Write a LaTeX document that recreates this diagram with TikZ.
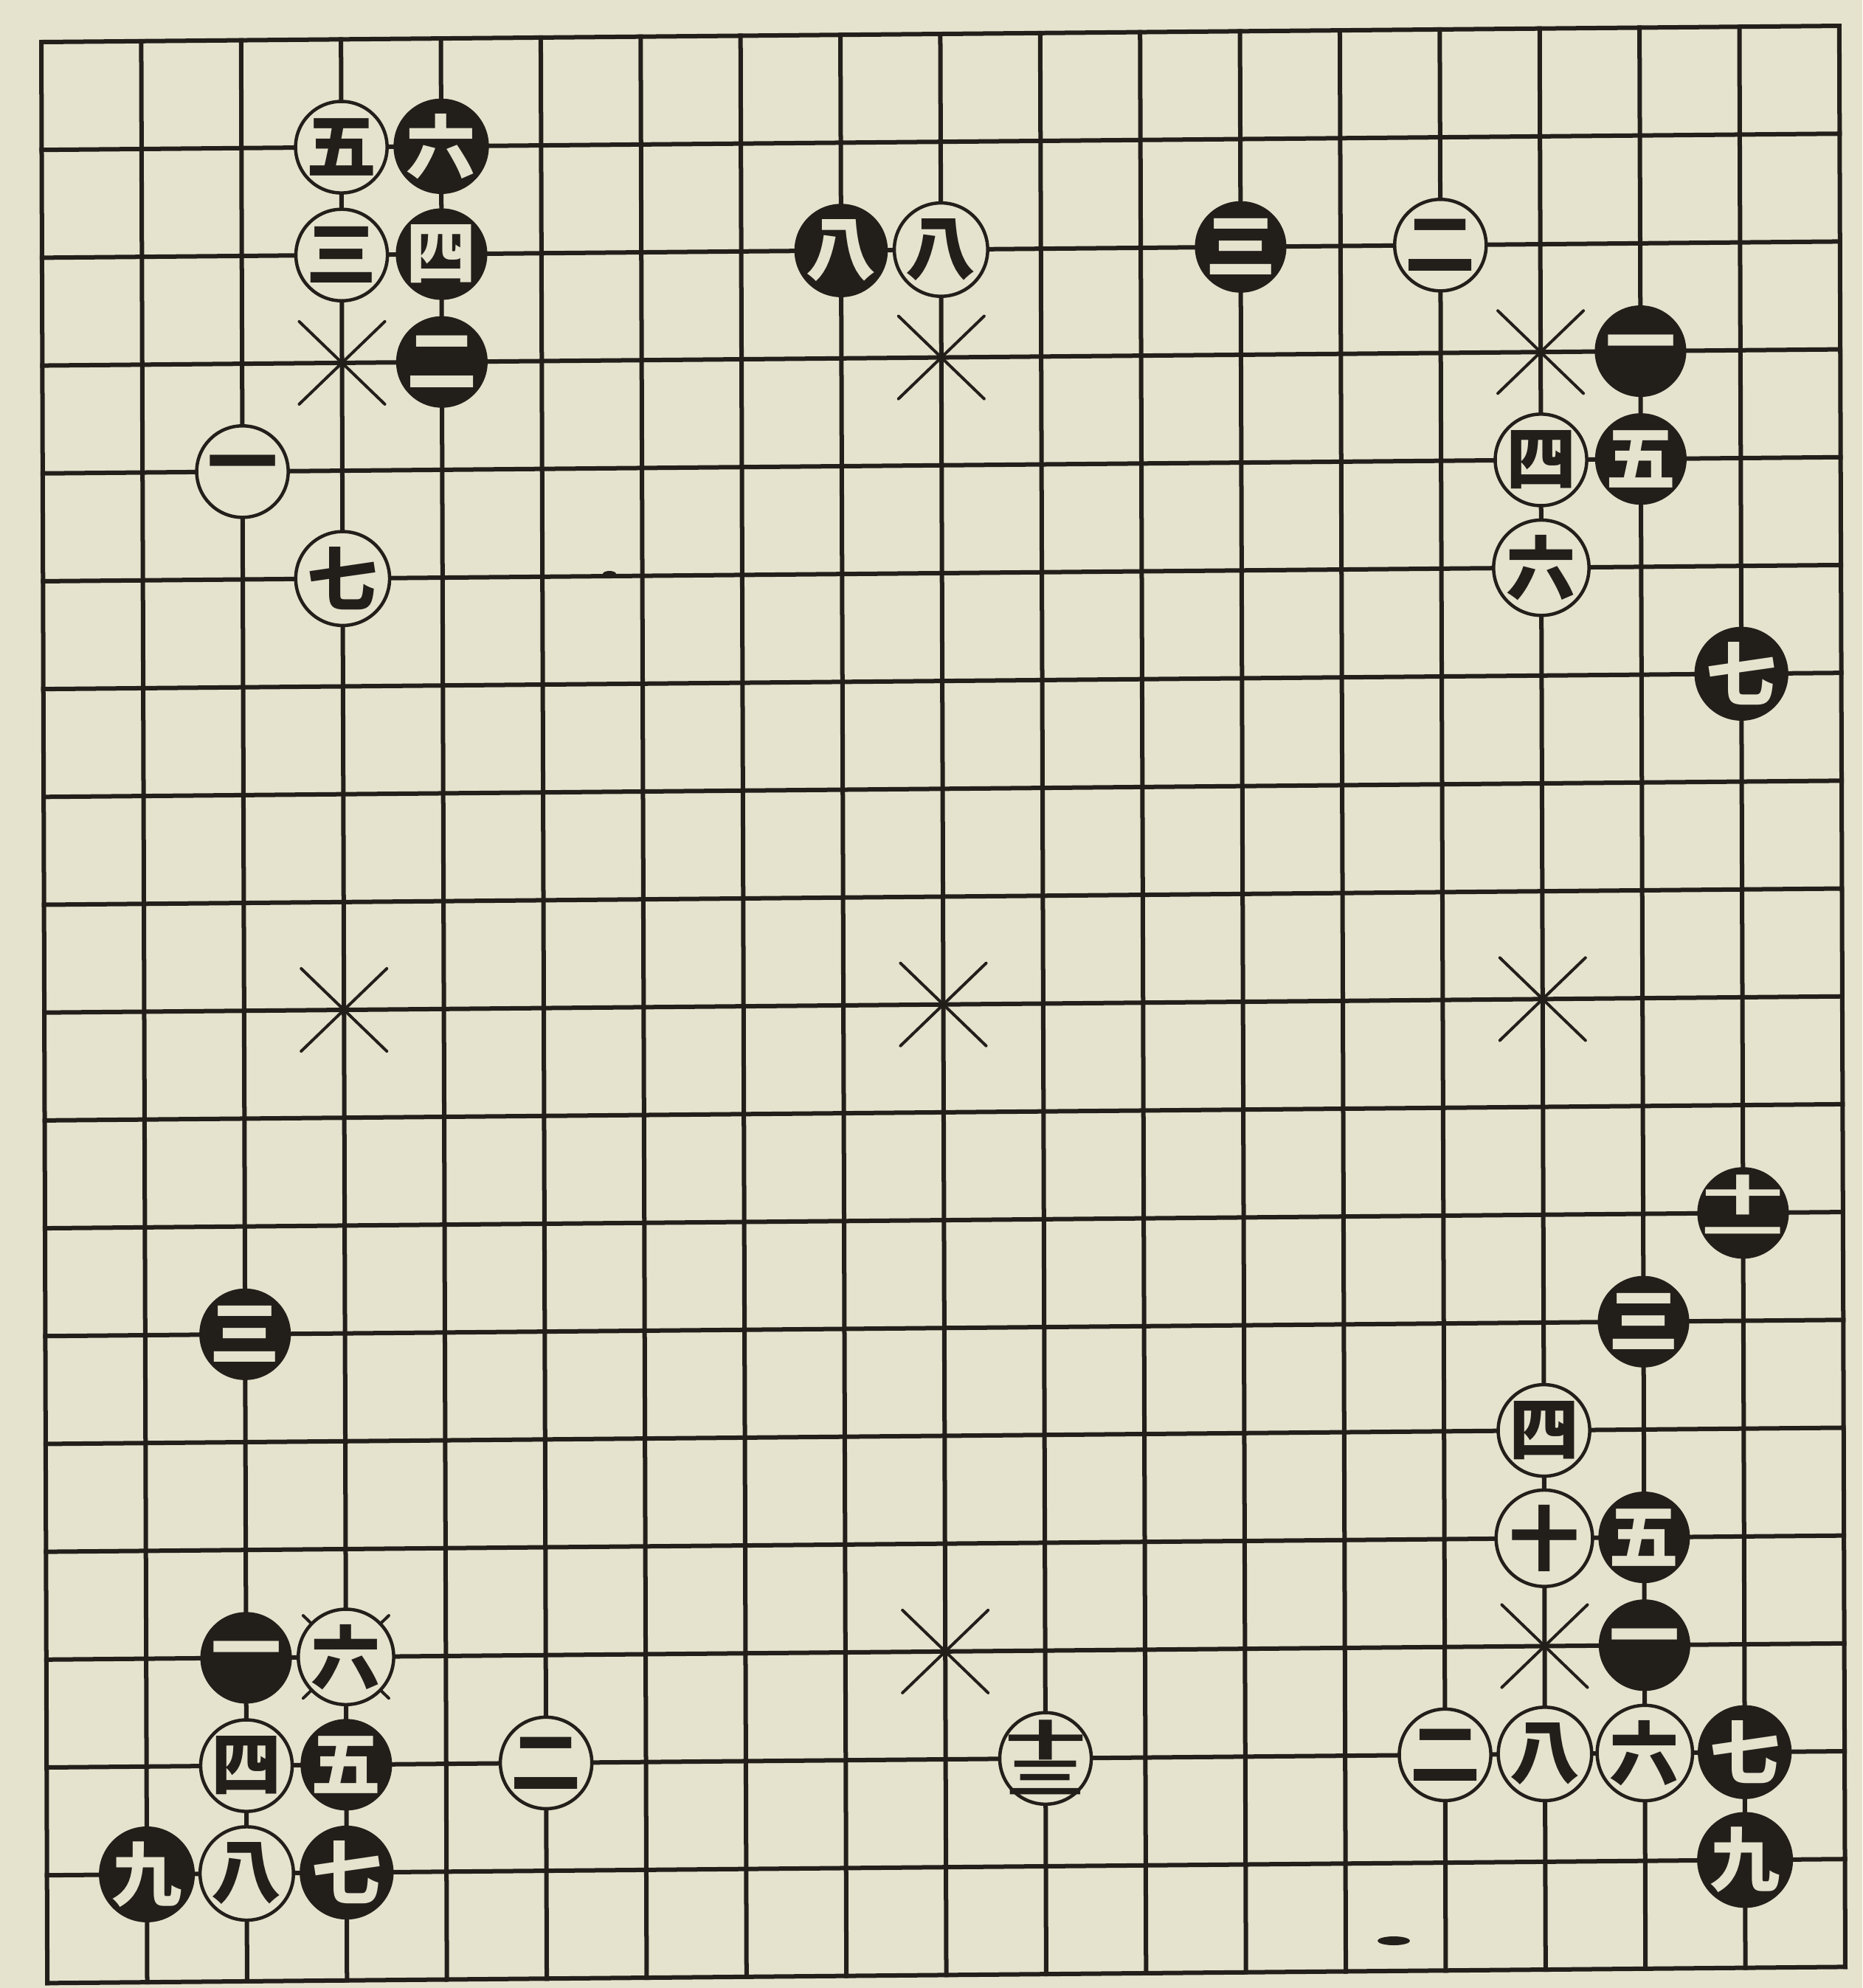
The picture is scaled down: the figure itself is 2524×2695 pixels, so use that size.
\documentclass[tikz,border=0pt]{standalone}
\usepackage{fontspec}
\newfontfamily\cjk{Noto Sans CJK JP}
\definecolor{paper}{RGB}{229,227,205}
\definecolor{ink}{RGB}{34,31,27}
\newcommand\twostack[2]{\makebox[1.1em]{\raisebox{0.03em}[0pt][0pt]{\makebox[0pt]{\scalebox{1.15}[0.6]{#1}}}\raisebox{-0.49em}[0pt][0pt]{\makebox[0pt]{\scalebox{1.15}[0.6]{#2}}}}}
\begin{document}
\begin{tikzpicture}[x=0.01cm,y=-0.01cm,
  gridline/.style={draw=ink, line width=0.06cm, line cap=rect},
  starline/.style={draw=ink, line width=0.04cm, line cap=round},
  stone/.style={circle, minimum size=1.24cm, inner sep=0pt, font=\cjk\bfseries\fontsize{27}{27}\selectfont},
  bstone/.style={stone, fill=ink, text=paper},
  wstone/.style={stone, fill=paper, draw=ink, line width=0.045cm, text=ink}]
\fill[paper] (0,0) rectangle (2524,2695);
\useasboundingbox (0,0) rectangle (2524,2695);
% stray ink marks
\fill[ink] (1889,2631) ellipse [x radius=22, y radius=6];
\fill[ink] (826,778) ellipse [x radius=9, y radius=4];
\begin{scope}[shift={(0.56cm,-0.57cm)}, x={(1.353cm,0.0122cm)}, y={(0.0045cm,-1.461cm)}]
  \foreach \i in {0,...,18} {
    \draw[gridline] (0,\i) -- (18,\i);
    \draw[gridline] (\i,0) -- (\i,18);
  }
  \foreach \c in {3,9,15} {
    \foreach \r in {3,9,15} {
      \coordinate (star-\c-\r) at (\c,\r);
      \draw[starline] (star-\c-\r) +(-0.58cm,0.56cm) -- +(0.58cm,-0.56cm);
      \draw[starline] (star-\c-\r) +(0.58cm,0.56cm) -- +(-0.58cm,-0.56cm);
    }
  }
  % top-left
  \node[wstone] (w-4-2) at (3,1) {五};
  \node[bstone] (b-5-2) at (4,1) {六};
  \node[wstone] (w-4-3) at (3,2) {三};
  \node[bstone] (b-5-3) at (4,2) {四};
  \node[bstone] (b-5-4) at (4,3) {二};
  \node[wstone] (w-3-5) at (2,4) {一};
  \node[wstone] (w-4-6) at (3,5) {七};
  % top centre
  \node[bstone] (b-9-3) at (8,2) {八};
  \node[wstone] (w-10-3) at (9,2) {八};
  \node[bstone] (b-13-3) at (12,2) {三};
  \node[wstone] (w-15-3) at (14,2) {二};
  % top right
  \node[bstone] (b-17-4) at (16,3) {一};
  \node[wstone] (w-16-5) at (15,4) {四};
  \node[bstone] (b-17-5) at (16,4) {五};
  \node[wstone] (w-16-6) at (15,5) {六};
  \node[bstone] (b-18-7) at (17,6) {七};
  % right side / bottom right
  \node[bstone] (b-18-12) at (17,11) {\twostack{十}{一}};
  \node[bstone] (b-17-13) at (16,12) {三};
  \node[wstone] (w-16-14) at (15,13) {四};
  \node[wstone] (w-16-15) at (15,14) {十};
  \node[bstone] (b-17-15) at (16,14) {五};
  \node[bstone] (b-17-16) at (16,15) {一};
  \node[wstone] (w-15-17) at (14,16) {二};
  \node[wstone] (w-16-17) at (15,16) {八};
  \node[wstone] (w-17-17) at (16,16) {六};
  \node[bstone] (b-18-17) at (17,16) {七};
  \node[bstone] (b-18-18) at (17,17) {九};
  % bottom left
  \node[bstone] (b-3-13) at (2,12) {三};
  \node[bstone] (b-3-16) at (2,15) {一};
  \node[wstone] (w-4-16) at (3,15) {六};
  \node[wstone] (w-3-17) at (2,16) {四};
  \node[bstone] (b-4-17) at (3,16) {五};
  \node[wstone] (w-6-17) at (5,16) {二};
  \node[bstone] (b-2-18) at (1,17) {九};
  \node[wstone] (w-3-18) at (2,17) {八};
  \node[bstone] (b-4-18) at (3,17) {七};
  % bottom centre
  \node[wstone] (w-11-17) at (10,16) {\twostack{十}{三}};
\end{scope}
\end{tikzpicture}
\end{document}
